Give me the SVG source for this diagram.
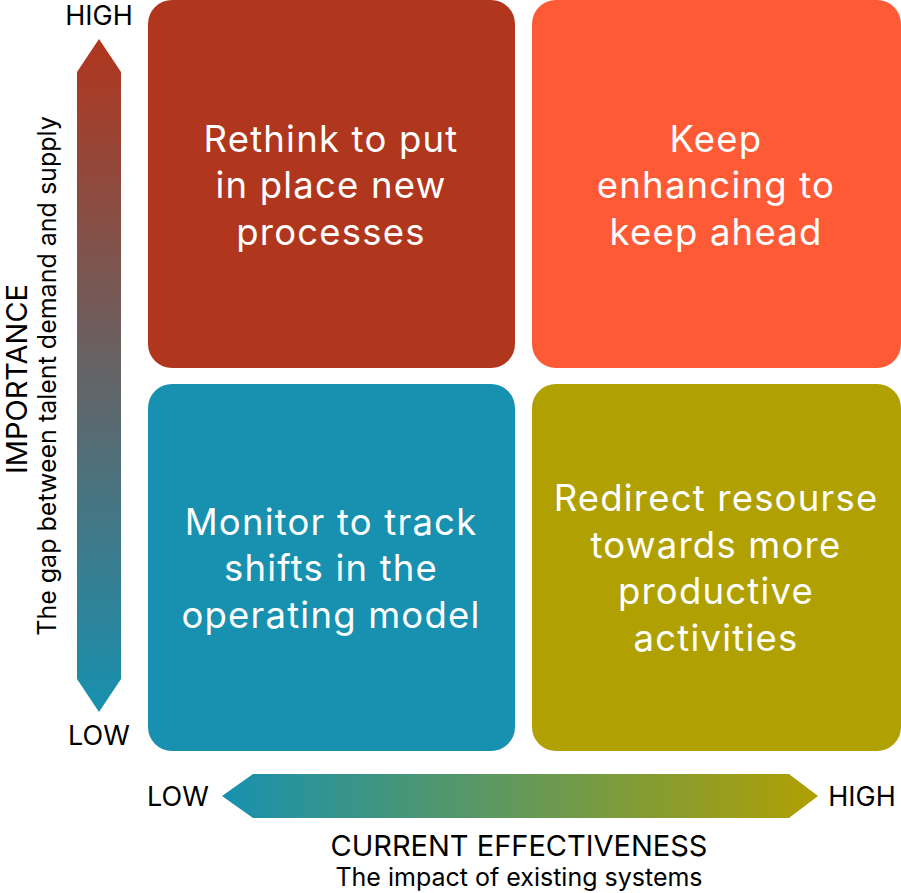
<svg xmlns="http://www.w3.org/2000/svg" width="901" height="893" viewBox="0 0 901 893">
<defs>
<linearGradient id="gv" x1="0" y1="0" x2="0" y2="1"><stop offset="0" stop-color="#B0361E"/><stop offset="1" stop-color="#1791AF"/></linearGradient>
<linearGradient id="gh" x1="0" y1="0" x2="1" y2="0"><stop offset="0" stop-color="#1791AF"/><stop offset="1" stop-color="#B0A002"/></linearGradient>
<style>
.q{font-family:Inter,"Noto Sans",sans-serif;font-size:36.5px;letter-spacing:1.2px;fill:#fff;text-anchor:middle}
.l{font-family:Inter,"Noto Sans",sans-serif;font-size:27px;fill:#000;text-anchor:middle}
.h{font-family:Inter,"Noto Sans",sans-serif;font-size:29px;fill:#000;text-anchor:middle}
.s{font-family:Inter,"Noto Sans",sans-serif;font-size:25px;fill:#000;text-anchor:middle}
</style>
</defs>
<g id="axes">
<polygon points="99,39 121,72 121,679 99,712 77,679 77,72" fill="url(#gv)"/>
<polygon points="222,796 253,774 789,774 818,796 789,818 253,818" fill="url(#gh)"/>
<text class="l" x="99" y="25">HIGH</text>
<text class="l" x="99" y="745">LOW</text>
<text class="l" x="178" y="806">LOW</text>
<text class="l" x="862" y="806">HIGH</text>
<text class="h" x="519" y="856">CURRENT EFFECTIVENESS</text>
<text class="s" x="519" y="886">The impact of existing systems</text>
<text class="h" transform="translate(27,379) rotate(-90)">IMPORTANCE</text>
<text class="s" transform="translate(56,376) rotate(-90)">The gap between talent demand and supply</text>
</g>
<g id="q-tl">
<rect x="148" y="0" width="367" height="368" rx="24" fill="#B0361E"/>
<text class="q" x="331" y="152">Rethink to put</text>
<text class="q" x="331" y="198">in place new</text>
<text class="q" x="331" y="245">processes</text>
</g>
<g id="q-tr">
<rect x="532" y="0" width="369" height="368" rx="24" fill="#FF5A36"/>
<text class="q" x="716" y="152">Keep</text>
<text class="q" x="716" y="198">enhancing to</text>
<text class="q" x="716" y="245">keep ahead</text>
</g>
<g id="q-bl">
<rect x="148" y="384" width="367" height="367" rx="24" fill="#1791AF"/>
<text class="q" x="331" y="535">Monitor to track</text>
<text class="q" x="331" y="581">shifts in the</text>
<text class="q" x="331" y="628">operating model</text>
</g>
<g id="q-br">
<rect x="532" y="384" width="369" height="367" rx="24" fill="#B0A002"/>
<text class="q" x="716" y="511">Redirect resourse</text>
<text class="q" x="716" y="558">towards more</text>
<text class="q" x="716" y="604">productive</text>
<text class="q" x="716" y="651">activities</text>
</g>
</svg>
